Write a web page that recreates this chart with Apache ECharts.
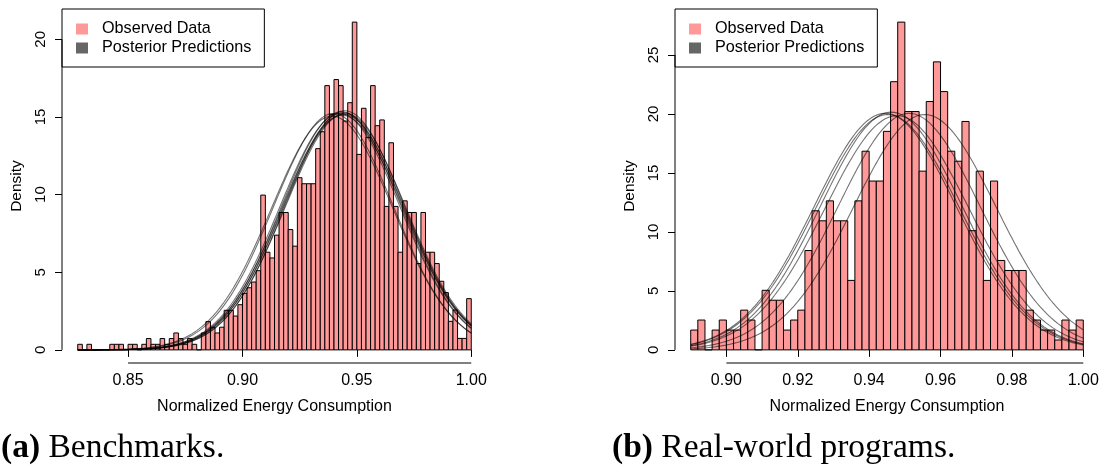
<!DOCTYPE html>
<html>
<head>
<meta charset="utf-8">
<script src="https://cdn.jsdelivr.net/npm/echarts@6/dist/echarts.min.js"></script>
<style>
  html, body { margin: 0; padding: 0; background: #fff; }
  #chart { width: 1102px; height: 471px; }
</style>
</head>
<body>
<div id="chart"></div>
<script>
// Histogram bins: width 0.002, left edge of the first bin
const binWidth = 0.002;
const binStartA = 0.828;
const binStartB = 0.890;

// (a) Benchmarks: density of each bin
const densityA = [
  0.36, 0, 0.36, 0, 0, 0, 0, 0.36, 0.36, 0.36,
  0, 0.36, 0.36, 0, 0.36, 0.73, 0.36, 0.36, 0.73, 0.36,
  0.73, 1.09, 0.73, 0.36, 0.73, 0.36, 0, 1.09, 1.82, 1.46,
  1.09, 1.46, 2.55, 2.55, 2.18, 2.91, 3.64, 4.00, 4.37, 5.10,
  9.97, 6.29, 5.92, 7.39, 8.85, 8.85, 7.75, 6.68, 11.09, 10.70,
  10.70, 10.70, 12.96, 14.05, 17.02, 15.17, 17.41, 17.02, 14.74, 15.92,
  21.11, 12.59, 15.56, 13.69, 17.02, 14.44, 14.81, 9.24, 13.34, 9.24,
  6.29, 9.60, 8.85, 8.85, 5.56, 8.85, 6.29, 6.29, 5.56, 4.42,
  3.69, 1.84, 2.57, 0.74, 0.74, 3.30
];

// (b) Real-world programs: density of each bin
const densityB = [
  1.68, 2.53, 0, 1.68, 2.53, 1.68, 1.68, 3.37, 2.53, 0,
  5.05, 4.21, 4.21, 1.68, 2.53, 3.37, 8.42, 11.79, 10.94, 12.63,
  10.94, 10.94, 5.89, 12.63, 16.84, 14.31, 14.31, 18.52, 22.73, 27.78,
  20.20, 20.20, 15.15, 21.05, 24.41, 21.89, 16.84, 15.99, 19.36, 10.10,
  15.15, 5.89, 14.31, 7.58, 6.73, 6.73, 6.73, 3.37, 2.53, 1.68,
  1.68, 0.84, 2.53, 1.68, 2.53
];

// Posterior predictive normal densities (mean, sd per draw)
const postMeanA = [0.9392, 0.9398, 0.9426, 0.9432, 0.9436, 0.9440, 0.9443, 0.9447, 0.9450];
const postSdA   = [0.0265, 0.0262, 0.0262, 0.0260, 0.0264, 0.0261, 0.0263, 0.0259, 0.0262];
const postMeanB = [0.9445, 0.9452, 0.9462, 0.9478, 0.9512, 0.9556];
const postSdB   = [0.0199, 0.0200, 0.0198, 0.0201, 0.0199, 0.0200];

// Axis ticks
const xTicksA = [0.85, 0.90, 0.95, 1.00];
const yTicksA = [0, 5, 10, 15, 20];
const xTicksB = [0.90, 0.92, 0.94, 0.96, 0.98, 1.00];
const yTicksB = [0, 5, 10, 15, 20, 25];

const xTitle = 'Normalized Energy Consumption';
const yTitle = 'Density';
const legendNames = ['Observed Data', 'Posterior Predictions'];

const SANS = 'Liberation Sans';
const SERIF = 'Liberation Serif';
const BAR_FILL = '#FF9999';
const CURVE = 'rgba(0,0,0,0.55)';

function bins(start, dens) {
  return dens.map((d, i) => [start + i * binWidth, start + (i + 1) * binWidth, d]);
}

function normalCurve(mean, sd, lo, hi) {
  const pts = [];
  const step = 0.0005;
  for (let x = lo; x <= hi + 1e-9; x += step) {
    const z = (x - mean) / sd;
    pts.push([x, Math.exp(-0.5 * z * z) / (sd * Math.sqrt(2 * Math.PI))]);
  }
  return pts;
}

// R-style 4% padding of the plotting region
function ranges(start, dens) {
  const lo = start, hi = start + dens.length * binWidth;
  const ymax = Math.max(...dens);
  const px = 0.04 * (hi - lo), py = 0.04 * ymax;
  return { lo, hi, xmin: lo - px, xmax: hi + px, ymin: -py, ymax: ymax + py };
}

const rA = ranges(binStartA, densityA);
const rB = ranges(binStartB, densityB);

function histItem(params, api) {
  const p0 = api.coord([api.value(0), api.value(2)]);
  const p1 = api.coord([api.value(1), 0]);
  return {
    type: 'rect',
    shape: { x: p0[0], y: p0[1], width: p1[0] - p0[0], height: p1[1] - p0[1] },
    style: { fill: BAR_FILL, stroke: '#000', lineWidth: 1 }
  };
}

function xAxisFor(idx, r, ticks) {
  return {
    type: 'value', gridIndex: idx, min: r.xmin, max: r.xmax,
    axisLine: { show: false },
    axisTick: { show: true, length: 7, customValues: ticks, lineStyle: { color: '#000' } },
    axisLabel: {
      customValues: ticks, margin: 10, color: '#000', fontFamily: SANS, fontSize: 16,
      formatter: v => v.toFixed(2)
    },
    splitLine: { show: false },
    name: xTitle, nameLocation: 'middle', nameGap: 36,
    nameTextStyle: { color: '#000', fontFamily: SANS, fontSize: 16 }
  };
}

function yAxisFor(idx, r, ticks, gap) {
  return {
    type: 'value', gridIndex: idx, min: r.ymin, max: r.ymax,
    axisLine: { show: false },
    axisTick: { show: true, length: 7, customValues: ticks, lineStyle: { color: '#000' } },
    axisLabel: {
      customValues: ticks, margin: 14, rotate: 90, color: '#000', fontFamily: SANS, fontSize: 15,
      formatter: v => String(Math.round(v))
    },
    splitLine: { show: false },
    name: yTitle, nameLocation: 'middle', nameGap: gap, nameRotate: 90,
    nameTextStyle: { color: '#000', fontFamily: SANS, fontSize: 15.5 }
  };
}

function panelSeries(idx, r, start, dens, means, sds, xTicks, yTicks) {
  const list = [];
  list.push({
    name: legendNames[0], type: 'custom', xAxisIndex: idx, yAxisIndex: idx,
    renderItem: histItem, data: bins(start, dens), silent: true, z: 2,
    itemStyle: { color: BAR_FILL }
  });
  means.forEach((m, i) => {
    list.push({
      name: legendNames[1], type: 'line', xAxisIndex: idx, yAxisIndex: idx,
      data: normalCurve(m, sds[i], r.lo, r.hi), showSymbol: false, silent: true, z: 3,
      itemStyle: { color: '#666' },
      lineStyle: { color: CURVE, width: 1.1 }
    });
  });
  // R-style axis lines spanning the first to the last tick
  list.push({
    type: 'line', xAxisIndex: idx, yAxisIndex: idx, clip: false, silent: true, z: 4,
    data: [[xTicks[0], r.ymin], [xTicks[xTicks.length - 1], r.ymin]],
    showSymbol: false, lineStyle: { color: '#000', width: 1 }
  });
  list.push({
    type: 'line', xAxisIndex: idx, yAxisIndex: idx, clip: false, silent: true, z: 4,
    data: [[r.xmin, yTicks[0]], [r.xmin, yTicks[yTicks.length - 1]]],
    showSymbol: false, lineStyle: { color: '#000', width: 1 }
  });
  return list;
}

function legendFor(left) {
  return {
    left: left, top: 9, orient: 'vertical', selectedMode: false,
    backgroundColor: '#fff', borderColor: '#000', borderWidth: 1, borderRadius: 0,
    padding: [12, 13, 11, 14], itemGap: 3, itemWidth: 12, itemHeight: 11,
    textStyle: { color: '#000', fontFamily: SANS, fontSize: 16.2, padding: [0, 0, 0, 9] },
    data: [
      { name: legendNames[0], icon: 'rect', itemStyle: { color: BAR_FILL, borderWidth: 0 } },
      { name: legendNames[1], icon: 'rect', itemStyle: { color: '#666', borderWidth: 0 } }
    ]
  };
}

const chart = echarts.init(document.getElementById('chart'), null, { renderer: 'canvas' });
chart.setOption({
  animation: false,
  backgroundColor: '#fff',
  grid: [
    { left: 62, top: 9, width: 425, height: 354 },
    { left: 675, top: 9, width: 424, height: 354 }
  ],
  xAxis: [xAxisFor(0, rA, xTicksA), xAxisFor(1, rB, xTicksB)],
  yAxis: [yAxisFor(0, rA, yTicksA, 37), yAxisFor(1, rB, yTicksB, 37)],
  legend: [legendFor(62), legendFor(675)],
  series: [
    ...panelSeries(0, rA, binStartA, densityA, postMeanA, postSdA, xTicksA, yTicksA),
    ...panelSeries(1, rB, binStartB, densityB, postMeanB, postSdB, xTicksB, yTicksB)
  ],
  graphic: [
    {
      type: 'text', x: 1, y: 448,
      style: {
        text: '{b|(a)} Benchmarks.', fill: '#000', fontFamily: SERIF, fontSize: 33.5,
        verticalAlign: 'middle',
        rich: { b: { fontWeight: 'bold', fontFamily: SERIF, fontSize: 33.5 } }
      }
    },
    {
      type: 'text', x: 612, y: 448,
      style: {
        text: '{b|(b)} Real-world programs.', fill: '#000', fontFamily: SERIF, fontSize: 33.5,
        verticalAlign: 'middle',
        rich: { b: { fontWeight: 'bold', fontFamily: SERIF, fontSize: 33.5 } }
      }
    }
  ]
});
</script>
</body>
</html>
